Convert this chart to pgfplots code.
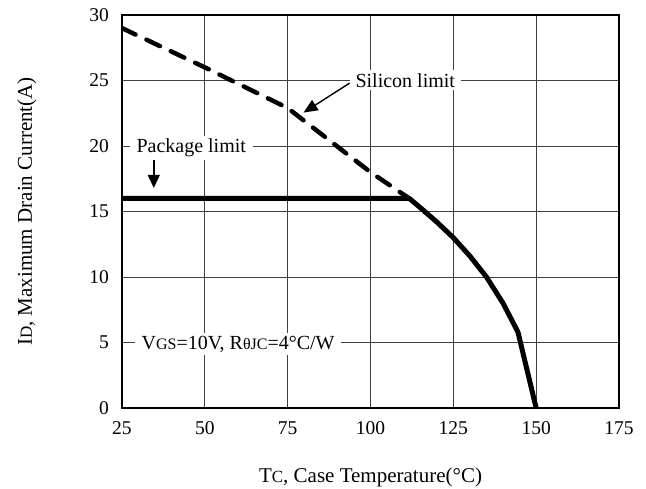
\documentclass[border=0pt]{standalone}
\usepackage{pgfplots}
\pgfplotsset{compat=1.18}
\usepackage{fontspec}
\setmainfont{Liberation Serif}
\usetikzlibrary{arrows.meta}

% smaller capitals used as subscripts (D, C, GS, JC)
\newcommand{\smc}[2]{{\fontsize{#1}{#1}\selectfont #2}}

\begin{document}
\begin{tikzpicture}
\useasboundingbox (-122pt,-80pt) rectangle (524pt,408pt);
\begin{axis}[
    at={(0pt,0pt)}, anchor=south west,
    width=497pt, height=393pt, scale only axis,
    xmin=25, xmax=175,
    ymin=0, ymax=30,
    xtick={25,50,...,175},
    ytick={0,5,...,30},
    grid=major,
    major grid style={black!75, line width=0.8pt},
    axis line style={black, line width=1.3pt},
    major tick length=0pt,
    tick label style={font=\fontsize{19.5}{20}\selectfont},
    /pgf/number format/assume math mode=true,
    xticklabel style={yshift=-10pt},
    yticklabel style={xshift=-9.5pt},
    label style={font=\fontsize{21}{22}\selectfont},
    xlabel={T\smc{17pt}{C}, Case Temperature(°C)},
    ylabel={I\smc{17pt}{D}, Maximum Drain Current(A)},
    xlabel style={at={(axis description cs:0.5,-0.1883)}, anchor=base},
    ylabel style={at={(axis description cs:-0.1811,0.5)}, anchor=base},
]

% silicon limit
\addplot[black, line width=4.5pt, line cap=round, dash pattern=on 15pt off 12pt]
    coordinates {(25,29.0)(50,26.0)(75,22.9)(100,18.0)(111.7,16.0)};

% package limit and derating
\addplot[black, line width=5pt]
    coordinates {(25,16.0)(111.7,16.0)(115,15.3)(120,14.2)(125,13.0)
                 (130,11.6)(135,10.0)(140,8.0)(144.5,5.8)(150,0)};

\node[fill=white, inner xsep=6pt, inner ysep=3pt, anchor=base, yshift=-6.6pt,
      font=\fontsize{20}{20}\selectfont] at (axis cs:110.5,25) {Silicon limit};
\node[fill=white, inner xsep=7pt, inner ysep=3pt, anchor=base, yshift=-6.6pt,
      font=\fontsize{20}{20}\selectfont] at (axis cs:45.9,20) {Package limit};
\node[fill=white, inner xsep=6.5pt, inner ysep=3pt, anchor=base west, yshift=-6.6pt,
      font=\fontsize{20}{20}\selectfont] at (axis cs:28.9,5)
      {V\smc{16pt}{GS}=10V, R\smc{16pt}{θJC}=4°C/W\hspace{16pt}};

\draw[-{Triangle[length=14pt,width=12pt]}, line width=1.4pt]
    (axis cs:93.7,24.8) -- (axis cs:79.8,22.55);
\draw[-{Triangle[length=13pt,width=12pt]}, line width=1.4pt]
    (axis cs:34.6,18.9) -- (axis cs:34.6,16.8);
\end{axis}
\end{tikzpicture}
\end{document}
